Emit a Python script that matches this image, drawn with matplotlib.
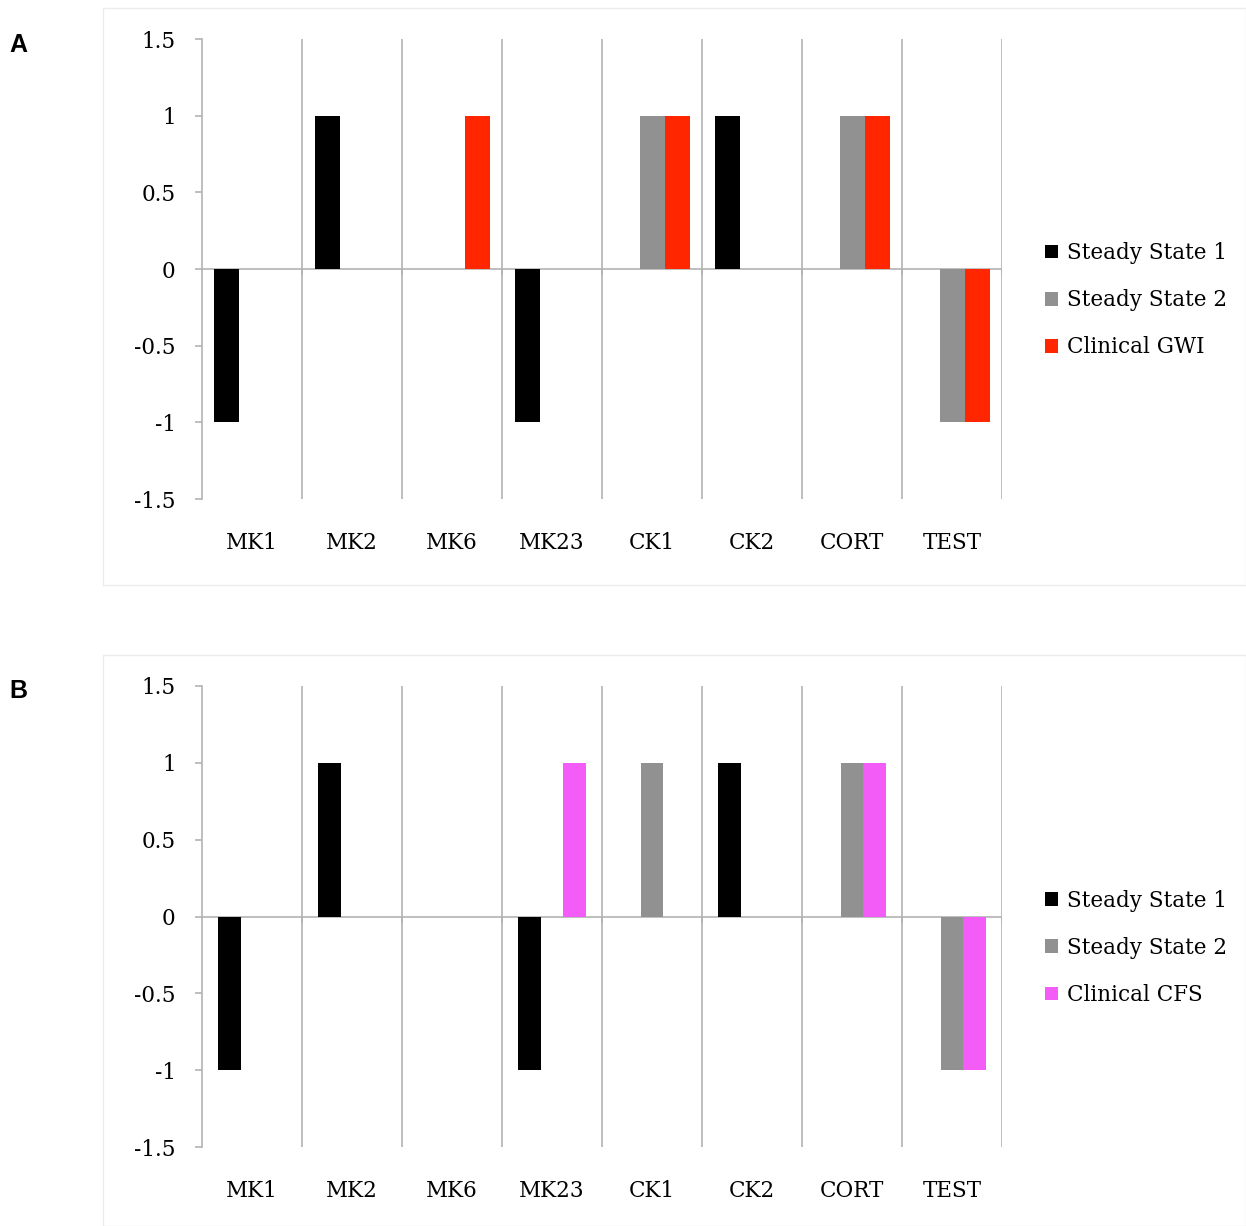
import numpy as np
import matplotlib
matplotlib.use("Agg")
import matplotlib.pyplot as plt
from matplotlib.patches import Rectangle

# Data
categories = ["MK1", "MK2", "MK6", "MK23", "CK1", "CK2", "CORT", "TEST"]

ss1_a = [-1, 1, 0, -1, 0, 1, 0, 0]
ss2_a = [0, 0, 0, 0, 1, 0, 1, -1]
gwi_a = [0, 0, 1, 0, 1, 0, 1, -1]

ss1_b = [-1, 1, 0, -1, 0, 1, 0, 0]
ss2_b = [0, 0, 0, 0, 1, 0, 1, -1]
cfs_b = [0, 0, 0, 1, 0, 0, 1, -1]

yticks = [-1.5, -1, -0.5, 0, 0.5, 1, 1.5]
ytick_labels = ["-1.5", "-1", "-0.5", "0", "0.5", "1", "1.5"]

SERIF = ["DejaVu Serif"]
FS = 15.5
GRID = "#b3b3b3"
W, H = 1246, 1226

fig = plt.figure(figsize=(W / 100, H / 100), dpi=100)


def panel(ax_rect, frame_rect, letter, letter_y, series, labels, colors, width):
    # faint frame around the panel
    x0, y0, x1, y1 = frame_rect
    fig.patches.append(Rectangle((x0 / W, 1 - y1 / H), (x1 - x0) / W, (y1 - y0) / H,
                                 transform=fig.transFigure, fill=False,
                                 edgecolor="#ececec", linewidth=1))
    fig.text(18 / W, 1 - letter_y / H, letter, fontsize=18, fontweight="bold",
             family="Liberation Sans", ha="center", va="center")

    l, t, r, b = ax_rect
    ax = fig.add_axes([l / W, 1 - b / H, (r - l) / W, (b - t) / H])
    x = np.arange(1, len(categories) + 1)
    offsets = [-width, 0, width]
    handles = []
    for vals, lab, col, off in zip(series, labels, colors, offsets):
        h = ax.bar(x + off, vals, width=width, color=col, label=lab, zorder=3)
        handles.append(h)

    ax.set_xlim(0.5, len(categories) + 0.5)
    ax.set_ylim(-1.5, 1.5)
    ax.axhline(0, color=GRID, linewidth=1.2, zorder=2)
    ax.vlines(np.arange(1.5, len(categories) + 1, 1), -1.5, 1.5, color=GRID,
              linewidth=1.2, zorder=1)
    ax.vlines(np.arange(1.5, len(categories) + 1, 1), -0.04, 0, color=GRID,
              linewidth=1.2, zorder=1)

    for s in ["top", "right", "bottom"]:
        ax.spines[s].set_visible(False)
    ax.spines["left"].set_color(GRID)
    ax.spines["left"].set_linewidth(1.2)

    ax.set_yticks(yticks)
    ax.set_yticklabels(ytick_labels, family=SERIF, fontsize=FS)
    ax.tick_params(axis="y", length=5, color=GRID, width=1.2, pad=14)
    ax.set_xticks(x)
    ax.set_xticklabels(categories, family=SERIF, fontsize=FS)
    ax.tick_params(axis="x", length=0, pad=24)

    ax.legend(handles=handles, loc="center left", bbox_to_anchor=(1.043, 0.432),
              frameon=False, prop={"family": SERIF, "size": FS},
              handlelength=0.6, handleheight=0.6, handletextpad=0.4,
              labelspacing=1.17, borderaxespad=0)
    return ax


panel((202, 39, 1002, 499), (103, 8, 1246, 585), "A", 45,
      [ss1_a, ss2_a, gwi_a], ["Steady State 1", "Steady State 2", "Clinical GWI"],
      ["#000000", "#919191", "#ff2600"], 0.25)

panel((202, 686, 1002, 1147), (103, 655, 1246, 1226), "B", 691,
      [ss1_b, ss2_b, cfs_b], ["Steady State 1", "Steady State 2", "Clinical CFS"],
      ["#000000", "#919191", "#f45cf7"], 0.225)

fig.savefig("out.png", dpi=100)
